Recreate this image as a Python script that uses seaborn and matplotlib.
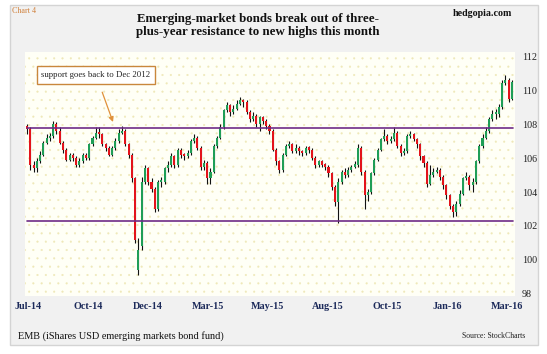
import numpy as np
import pandas as pd
import matplotlib
matplotlib.use("Agg")
import matplotlib.pyplot as plt
from matplotlib.patches import Rectangle
import seaborn as sns

# ---------------- data ----------------
start_date = "2014-07-01"
end_date = "2016-03-07"

opens = [107.9, 107.7, 105.6, 105.4, 105.8, 106.2, 106.9, 107.2, 107.3, 108.0,
         107.6, 106.9, 106.5, 105.9, 106.2, 106.0, 105.6, 105.8, 106.2, 106.0,
         106.8, 107.2, 107.5, 107.4, 106.8, 106.6, 106.2, 106.6, 107.0, 107.5,
         107.6, 106.8, 106.2, 104.8, 99.4, 100.8, 104.6, 105.4, 104.6, 104.2,
         103.0, 104.6, 104.6, 105.4, 105.6, 106.1, 105.6, 106.5, 106.2, 106.1,
         106.3, 107.0, 107.2, 106.6, 105.5, 105.7, 104.8, 105.2, 106.7, 107.2,
         107.8, 108.8, 109.1, 108.7, 108.9, 109.2, 109.4, 109.3, 108.7, 108.3,
         108.5, 108.0, 108.4, 108.2, 107.9, 107.6, 106.5, 105.8, 105.3, 106.2,
         106.7, 106.8, 106.4, 106.6, 106.4, 106.3, 106.6, 106.5, 106.0, 105.6,
         105.8, 105.6, 105.5, 105.1, 104.3, 103.4, 104.6, 105.2, 105.0, 105.3,
         105.5, 105.6, 106.6, 105.2, 103.8, 104.0, 105.1, 105.9, 106.5, 107.1,
         107.3, 107.0, 107.1, 107.5, 106.7, 106.3, 106.4, 107.3, 107.4, 107.1,
         106.8, 106.1, 105.7, 104.5, 105.0, 105.2, 105.3, 104.9, 104.4, 103.8,
         103.2, 102.8, 103.3, 103.9, 104.8, 104.9, 104.4, 104.6, 105.8, 106.7,
         107.2, 107.6, 108.3, 108.6, 108.6, 109.0, 110.4, 110.6, 109.5]

closes = [107.7, 105.6, 105.4, 105.8, 106.2, 106.9, 107.2, 107.3, 108.0, 107.6,
          106.9, 106.5, 105.9, 106.2, 106.0, 105.6, 105.8, 106.2, 106.0, 106.8,
          107.2, 107.5, 107.4, 106.8, 106.6, 106.2, 106.6, 107.0, 107.5, 107.6,
          106.8, 106.2, 104.8, 101.2, 100.6, 104.6, 105.4, 104.6, 104.2, 103.0,
          104.6, 104.6, 105.4, 105.6, 106.1, 105.6, 106.5, 106.2, 106.1, 106.3,
          107.0, 107.2, 106.6, 105.5, 105.7, 104.8, 105.2, 106.7, 107.2, 107.8,
          108.8, 109.1, 108.7, 108.9, 109.2, 109.4, 109.3, 108.7, 108.3, 108.5,
          108.0, 108.4, 108.2, 107.9, 107.6, 106.5, 105.8, 105.3, 106.2, 106.7,
          106.8, 106.4, 106.6, 106.4, 106.3, 106.6, 106.5, 106.0, 105.6, 105.8,
          105.6, 105.5, 105.1, 104.3, 103.4, 104.6, 105.2, 105.0, 105.3, 105.5,
          105.6, 106.6, 105.2, 103.8, 104.0, 105.1, 105.9, 106.5, 107.1, 107.3,
          107.0, 107.1, 107.5, 106.7, 106.3, 106.4, 107.3, 107.4, 107.1, 106.8,
          106.1, 105.7, 104.5, 105.0, 105.2, 105.3, 104.9, 104.4, 103.8, 103.2,
          102.8, 103.3, 103.9, 104.8, 104.9, 104.4, 104.6, 105.8, 106.7, 107.2,
          107.6, 108.3, 108.6, 108.6, 109.0, 110.4, 110.6, 109.5, 110.5]

highs = [108.0, 107.8, 105.8, 106.0, 106.4, 107.0, 107.4, 107.5, 108.2, 108.1,
         107.8, 107.0, 106.6, 106.3, 106.3, 106.1, 106.0, 106.3, 106.3, 106.9,
         107.3, 107.8, 107.8, 107.5, 106.9, 106.7, 106.7, 107.2, 107.7, 107.9,
         107.7, 106.9, 106.3, 104.9, 101.3, 104.9, 105.6, 105.5, 104.8, 104.3,
         104.7, 104.9, 105.5, 105.8, 106.3, 106.2, 106.6, 106.6, 106.3, 106.5,
         107.1, 107.4, 107.3, 106.7, 105.9, 105.8, 105.4, 106.8, 107.3, 108.0,
         108.9, 109.3, 109.2, 109.1, 109.4, 109.6, 109.5, 109.4, 108.8, 108.7,
         108.6, 108.5, 108.5, 108.3, 108.0, 107.7, 106.6, 105.9, 106.3, 106.8,
         107.0, 106.9, 106.8, 106.7, 106.5, 106.7, 106.7, 106.6, 106.1, 105.9,
         105.9, 105.7, 105.6, 105.2, 104.4, 104.8, 105.3, 105.4, 105.5, 105.6,
         105.8, 106.8, 106.7, 105.3, 104.2, 105.2, 106.0, 106.6, 107.2, 107.7,
         107.4, 107.3, 107.8, 107.6, 106.8, 106.6, 107.4, 107.6, 107.5, 107.2,
         106.9, 106.2, 105.8, 105.6, 105.4, 105.5, 105.4, 105.0, 104.5, 103.9,
         103.3, 103.5, 104.1, 104.9, 105.2, 105.0, 104.8, 105.9, 106.8, 107.4,
         107.8, 108.4, 108.8, 108.9, 109.2, 110.6, 110.9, 110.7, 110.6]

lows = [107.4, 105.3, 105.2, 105.2, 105.7, 106.1, 106.8, 107.0, 107.2, 107.4,
        106.8, 106.3, 105.8, 105.8, 105.8, 105.5, 105.5, 105.7, 105.9, 105.9,
        106.7, 107.1, 107.2, 106.7, 106.4, 106.1, 106.1, 106.5, 106.9, 107.4,
        106.7, 106.0, 104.6, 101.0, 99.1, 100.6, 104.5, 104.4, 104.0, 102.8,
        102.9, 104.3, 104.5, 105.2, 105.5, 105.4, 105.5, 106.0, 105.9, 106.0,
        106.2, 106.9, 106.5, 105.3, 105.3, 104.5, 104.5, 105.1, 106.6, 107.1,
        107.7, 108.7, 108.5, 108.6, 108.8, 109.1, 109.0, 108.6, 108.1, 108.2,
        107.8, 107.6, 108.0, 107.7, 107.4, 106.4, 105.6, 105.1, 105.2, 106.1,
        106.6, 106.3, 106.3, 106.2, 106.1, 106.2, 106.3, 105.9, 105.4, 105.5,
        105.5, 105.3, 104.9, 104.1, 103.2, 102.2, 104.5, 104.8, 104.9, 105.2,
        105.4, 105.5, 105.0, 103.0, 103.5, 103.9, 105.0, 105.8, 106.4, 107.0,
        106.8, 106.9, 107.0, 106.6, 106.1, 106.2, 106.3, 107.2, 107.0, 106.6,
        105.9, 105.5, 104.3, 104.4, 104.9, 105.1, 104.7, 104.2, 103.6, 103.0,
        102.5, 102.6, 103.2, 103.8, 104.7, 104.1, 104.0, 104.5, 105.7, 106.6,
        107.1, 107.5, 108.2, 108.3, 108.4, 108.9, 110.3, 109.3, 109.4]

resistance = 107.78
support = 102.3
y_ticks = [98, 100, 102, 104, 106, 108, 110, 112]
x_tick_labels = ["Jul-14", "Oct-14", "Dec-14", "Mar-15", "May-15",
                 "Aug-15", "Oct-15", "Jan-16", "Mar-16"]

# ---------------- figure ----------------
sns.set_style("white")
plt.rcParams["font.family"] = ["Liberation Serif", "DejaVu Serif"]
plt.rcParams["hatch.linewidth"] = 0.3

W, H = 547, 354
fig = plt.figure(figsize=(W / 100, H / 100), dpi=100)
fig.patch.set_facecolor("white")

def fx(px):
    return px / W

def fy(py):
    return 1 - py / H

# outer grey panel
panel = Rectangle((fx(10), fy(345)), fx(528), (345 - 5) / H,
                  transform=fig.transFigure, facecolor="#f1f1f1",
                  edgecolor="#d4d4d4", lw=1.0, zorder=-10)
fig.patches.append(panel)

ax = fig.add_axes([fx(25), fy(296), fx(490), (296 - 52) / H])
ax.set_zorder(1)
ax.set_facecolor("#fffff6")

df = pd.DataFrame({"open": opens, "high": highs, "low": lows, "close": closes})
df["date"] = pd.date_range(start_date, end_date, periods=len(df))
df["up"] = df["close"] >= df["open"]
df["body_lo"] = df[["open", "close"]].min(axis=1)
df["body_h"] = (df["close"] - df["open"]).abs().clip(lower=0.12)

# dotted background
ax.add_patch(Rectangle((0, 0), 1, 1, transform=ax.transAxes, facecolor="none",
                       edgecolor="#efe8b8", hatch="..", lw=0, zorder=0))

# wicks
ax.vlines(df["date"], df["low"], df["high"], color="#111111", lw=0.8, zorder=2)
# bodies
colors = np.where(df["up"], "#1f9e57", "#e3131b")
ax.bar(df["date"], df["body_h"], bottom=df["body_lo"], width=2.6,
       color=colors, edgecolor="none", zorder=3)

# resistance / support lines
ax.axhline(resistance, xmin=0.004, xmax=0.995, color="#6e2b87", lw=1.2, zorder=4)
ax.axhline(support, xmin=0.004, xmax=0.995, color="#6e2b87", lw=1.2, zorder=4)

# axes limits
d0 = pd.Timestamp(start_date)
d1 = pd.Timestamp(end_date)
ax.set_xlim(d0 - pd.Timedelta(days=2.5), d1 + pd.Timedelta(days=3.8))
ax.set_ylim(97.88, 112.24)

tick_dates = pd.date_range(d0 + pd.Timedelta(days=1), periods=len(x_tick_labels), freq="76D")
ax.set_xticks(tick_dates)
ax.set_xticklabels(x_tick_labels)
ax.set_yticks(y_ticks)
ax.set_yticklabels([str(v) for v in y_ticks])
ax.yaxis.tick_right()
ax.tick_params(axis="x", length=0, pad=4, labelsize=7.3, labelcolor="#1c2a5a")
ax.tick_params(axis="y", length=0, pad=5, labelsize=7.3, labelcolor="#222222")
for lab in ax.get_xticklabels():
    lab.set_fontweight("bold")
for s in ax.spines.values():
    s.set_visible(False)
ax.grid(False)

# annotation box with arrow
ax.annotate("support goes back to Dec 2012",
            xy=(fx(113), fy(122)), xycoords="figure fraction",
            xytext=(fx(96), fy(75)), textcoords="figure fraction",
            ha="center", va="center", fontsize=6.3, color="#222222",
            bbox=dict(boxstyle="square,pad=0.55", facecolor="white",
                      edgecolor="#c9873c", lw=1.0),
            arrowprops=dict(arrowstyle="-|>", color="#e0913a", lw=0.9,
                            mutation_scale=7, shrinkA=6, shrinkB=0),
            zorder=6)

# titles and texts
fig.text(fx(258), fy(25.5), "Emerging-market bonds break out of three-\nplus-year resistance to new highs this month",
         ha="center", va="center", fontsize=9.3, fontweight="bold",
         linespacing=1.15, color="#111111")
fig.text(fx(12), fy(11), "Chart 4", ha="left", va="center", fontsize=5.8,
         color="#d0803a")
fig.text(fx(512), fy(13), "hedgopia.com", ha="right", va="center", fontsize=7.2,
         fontweight="bold", color="#111111")
fig.text(fx(18), fy(336), "EMB (iShares USD emerging markets bond fund)",
         ha="left", va="center", fontsize=7.4, color="#111111")
fig.text(fx(525), fy(336), "Source: StockCharts", ha="right", va="center",
         fontsize=5.6, color="#222222")

fig.savefig("out.png", dpi=100, facecolor=fig.get_facecolor())
